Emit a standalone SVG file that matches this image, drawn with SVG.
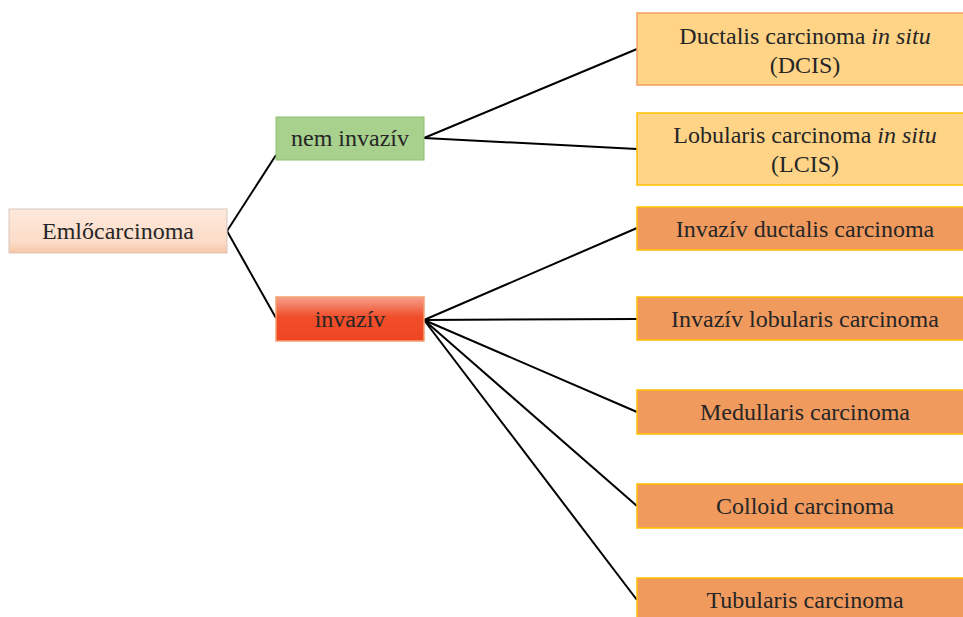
<svg xmlns="http://www.w3.org/2000/svg" width="963" height="617" viewBox="0 0 963 617">
<defs>
<linearGradient id="gPeach" x1="0" y1="0" x2="0" y2="1">
<stop offset="0" stop-color="#fde9dc"/>
<stop offset="0.75" stop-color="#fbdcc8"/>
<stop offset="1" stop-color="#f7c6a6"/>
</linearGradient>
<linearGradient id="gRed" x1="0" y1="0" x2="0" y2="1">
<stop offset="0" stop-color="#f6a08c"/>
<stop offset="0.45" stop-color="#f04e2a"/>
<stop offset="1" stop-color="#ef4523"/>
</linearGradient>
<style>
text{font-family:"Liberation Serif","Times New Roman",serif;font-size:24px;fill:#262626;text-anchor:middle}
.it{font-style:italic}
.conn line{stroke:#000;stroke-width:2;fill:none}
.leaf rect{fill:#f09a5e;stroke:#ffc000;stroke-width:1.5}
</style>
</defs>
<rect width="963" height="617" fill="#fff"/>
<g class="conn" id="connectors">
<line x1="227" y1="231" x2="276" y2="155"/>
<line x1="227" y1="231" x2="276" y2="318"/>
<line x1="424" y1="138" x2="637" y2="49"/>
<line x1="424" y1="138" x2="637" y2="149"/>
<line x1="424" y1="320" x2="637" y2="228"/>
<line x1="424" y1="320" x2="637" y2="319"/>
<line x1="424" y1="320" x2="637" y2="412"/>
<line x1="424" y1="320" x2="637" y2="506"/>
<line x1="424" y1="320" x2="637" y2="600"/>
</g>
<g id="root">
<rect x="9" y="209" width="218" height="44" fill="url(#gPeach)" stroke="#d9c8bd" stroke-width="1"/>
<text x="118" y="239">Emlőcarcinoma</text>
</g>
<g id="neminvaziv">
<rect x="276" y="117" width="148" height="43" fill="#a9d18e" stroke="#8fc06f" stroke-width="1"/>
<text x="350" y="146">nem invazív</text>
</g>
<g id="invaziv">
<rect x="276" y="297" width="148" height="44" fill="url(#gRed)" stroke="#f4a070" stroke-width="1.5"/>
<text x="350" y="327">invazív</text>
</g>
<g id="dcis">
<rect x="637" y="13" width="340" height="72" fill="#ffd486" stroke="#f4a060" stroke-width="1.5"/>
<text x="805" y="44">Ductalis carcinoma <tspan class="it">in situ</tspan></text>
<text x="805" y="73">(DCIS)</text>
</g>
<g id="lcis">
<rect x="637" y="113" width="340" height="72" fill="#ffd486" stroke="#ffc000" stroke-width="1.5"/>
<text x="805" y="143">Lobularis carcinoma <tspan class="it">in situ</tspan></text>
<text x="805" y="172">(LCIS)</text>
</g>
<g id="idc" class="leaf">
<rect x="637" y="207" width="340" height="43"/>
<text x="805" y="237">Invazív ductalis carcinoma</text>
</g>
<g id="ilc" class="leaf">
<rect x="637" y="297" width="340" height="43"/>
<text x="805" y="327">Invazív lobularis carcinoma</text>
</g>
<g id="medullaris" class="leaf">
<rect x="637" y="390" width="340" height="44"/>
<text x="805" y="420">Medullaris carcinoma</text>
</g>
<g id="colloid" class="leaf">
<rect x="637" y="484" width="340" height="44"/>
<text x="805" y="514">Colloid carcinoma</text>
</g>
<g id="tubularis" class="leaf">
<rect x="637" y="578" width="340" height="50"/>
<text x="805" y="608">Tubularis carcinoma</text>
</g>
</svg>
